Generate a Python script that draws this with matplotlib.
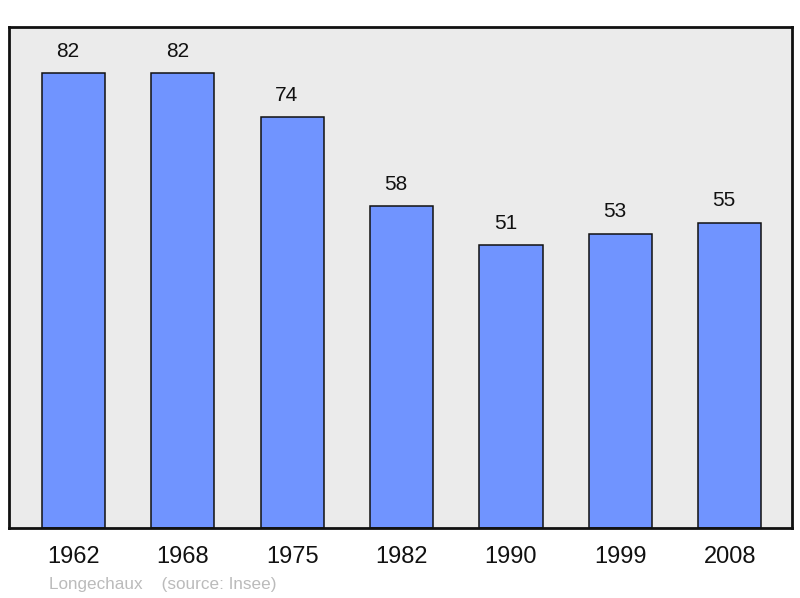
import matplotlib
matplotlib.use("Agg")
import matplotlib.pyplot as plt

plt.rcParams['font.family'] = ['Liberation Sans', 'DejaVu Sans']

years = ['1962', '1968', '1975', '1982', '1990', '1999', '2008']
population = [82, 82, 74, 58, 51, 53, 55]
town = 'Longechaux'
source = '(source: Insee)'

fig = plt.figure(figsize=(8, 5.98), dpi=100)
ax = fig.add_axes([9 / 800, 1 - 528 / 598, 783 / 800, 501 / 598])
ax.set_facecolor('#ebebeb')

x = range(len(years))
bars = ax.bar(x, population, width=0.578, color='#7094ff',
              edgecolor='#111111', linewidth=1.1, zorder=2)
for xi, v in zip(x, population):
    ax.annotate(str(v), (xi, v), xytext=(-4, 9), textcoords='offset points',
                ha='center', va='bottom', fontsize=15, color='#111111')

ax.set_xlim(-0.59, 6.57)
ax.set_ylim(0, 90.3)
ax.set_xticks(list(x))
ax.set_xticklabels(years, fontsize=17, color='#111111')
ax.tick_params(axis='x', length=0, pad=13)
ax.set_yticks([])
for s in ax.spines.values():
    s.set_linewidth(2)
    s.set_color('#111111')

fig.text(49 / 800, 1 - 585 / 598, town + '    ' + source, fontsize=12.3,
         color='#bbbbbb', ha='left', va='center')

fig.savefig('out.png', dpi=100)
